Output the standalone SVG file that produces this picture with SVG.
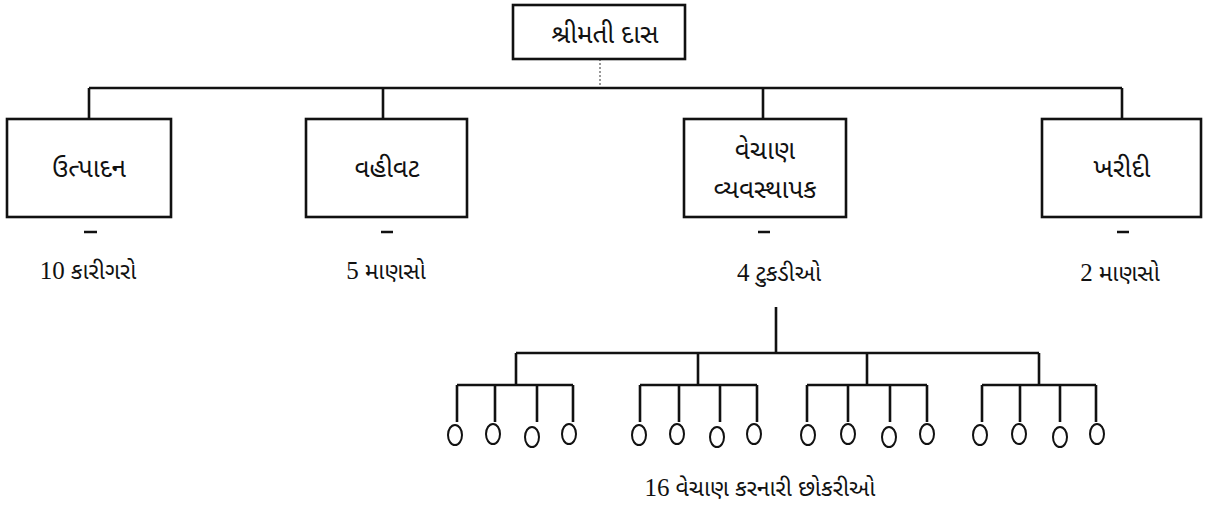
<svg xmlns="http://www.w3.org/2000/svg" width="1225" height="508" viewBox="0 0 1225 508">
<style>
.box{fill:#fff;stroke:#111;stroke-width:2.6}
.ln{stroke:#111;stroke-width:2.6;fill:none}
.dot{stroke:#333;stroke-width:1;stroke-dasharray:2 2;fill:none}
.c{fill:none;stroke:#111;stroke-width:2}
text{font-family:"Noto Sans Gujarati","Lohit Gujarati","Noto Serif Gujarati","Shruti","Noto Sans",sans-serif;font-size:26px;fill:#111;text-anchor:middle}
.lbl{font-size:23px}
.num{font-family:"Liberation Serif",serif;font-size:25px}
</style>
<rect width="1225" height="508" fill="#fff"/>
<g id="connectors">
<path class="dot" d="M600 59V88"/>
<path class="ln" d="M89 88H1122M89 88V119M383 88V119M763 88V119M1122 88V119"/>
<path class="ln" d="M84 232H97M381 232H393M758 232H770M1117 232H1129"/>
<path class="ln" d="M776 307V353M516 353H1039M516 353V385M698 353V385M867 353V385M1039 353V385"/>
<path class="ln" d="M457 385H573M457 385V422M495 385V422M537 385V422M573 385V422"/>
<path class="ln" d="M640 385H757M640 385V422M679 385V422M720 385V422M757 385V422"/>
<path class="ln" d="M807 385H927M807 385V422M848 385V422M890 385V422M927 385V422"/>
<path class="ln" d="M982 385H1096M982 385V422M1020 385V422M1060 385V422M1096 385V422"/>
</g>
<g id="n-top"><rect class="box" x="513" y="5" width="172" height="54"/><text x="605" y="43">શ્રીમતી દાસ</text></g>
<g id="n-utpadan"><rect class="box" x="7" y="119" width="164" height="98"/><text x="89" y="177">ઉત્પાદન</text></g>
<g id="n-vahivat"><rect class="box" x="306" y="119" width="161" height="98"/><text x="387" y="177">વહીવટ</text></g>
<g id="n-vechan"><rect class="box" x="684" y="119" width="162" height="98"/><text x="765" y="159">વેચાણ</text><text x="765" y="198">વ્યવસ્થાપક</text></g>
<g id="n-kharidi"><rect class="box" x="1042" y="119" width="159" height="98"/><text x="1122" y="177">ખરીદી</text></g>
<g id="labels">
<text class="lbl" x="88" y="279"><tspan class="num">10</tspan> કારીગરો</text>
<text class="lbl" x="386" y="279"><tspan class="num">5</tspan> માણસો</text>
<text class="lbl" x="779" y="281"><tspan class="num">4</tspan> ટુકડીઓ</text>
<text class="lbl" x="1120" y="281"><tspan class="num">2</tspan> માણસો</text>
<text class="lbl" x="760" y="496"><tspan class="num">16</tspan> વેચાણ કરનારી છોકરીઓ</text>
</g>
<g id="girls">
<ellipse class="c" cx="455" cy="435" rx="7" ry="10"/><ellipse class="c" cx="493" cy="434" rx="7" ry="10"/><ellipse class="c" cx="532" cy="437" rx="7" ry="10"/><ellipse class="c" cx="569" cy="434" rx="7" ry="10"/>
<ellipse class="c" cx="639" cy="435" rx="7" ry="10"/><ellipse class="c" cx="677" cy="434" rx="7" ry="10"/><ellipse class="c" cx="717" cy="437" rx="7" ry="10"/><ellipse class="c" cx="754" cy="434" rx="7" ry="10"/>
<ellipse class="c" cx="808" cy="435" rx="7" ry="10"/><ellipse class="c" cx="848" cy="434" rx="7" ry="10"/><ellipse class="c" cx="889" cy="437" rx="7" ry="10"/><ellipse class="c" cx="927" cy="434" rx="7" ry="10"/>
<ellipse class="c" cx="980" cy="435" rx="7" ry="10"/><ellipse class="c" cx="1019" cy="434" rx="7" ry="10"/><ellipse class="c" cx="1060" cy="437" rx="7" ry="10"/><ellipse class="c" cx="1097" cy="434" rx="7" ry="10"/>
</g>
</svg>
